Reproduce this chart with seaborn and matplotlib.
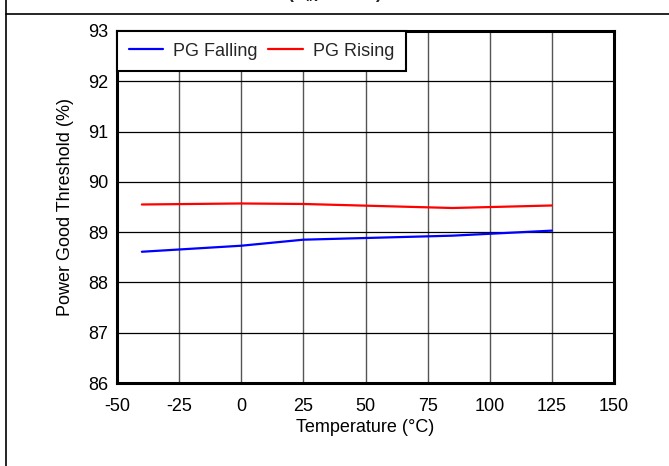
import matplotlib
matplotlib.use("Agg")
import matplotlib.pyplot as plt
import numpy as np
import pandas as pd
import seaborn as sns
from matplotlib.lines import Line2D

temperature = [-40, 0, 25, 85, 125]
pg_falling = [88.61, 88.73, 88.85, 88.93, 89.03]
pg_rising = [89.55, 89.57, 89.56, 89.48, 89.53]
series_names = ["PG Falling", "PG Rising"]
x_ticks = [-50, -25, 0, 25, 50, 75, 100, 125, 150]
y_ticks = [86, 87, 88, 89, 90, 91, 92, 93]

df = pd.DataFrame({
    "Temperature": temperature * 2,
    "Threshold": pg_falling + pg_rising,
    "Series": [series_names[0]] * len(temperature) + [series_names[1]] * len(temperature),
})

sns.set_theme(style="white")
plt.rcParams["font.family"] = ["Liberation Sans", "DejaVu Sans"]

fig = plt.figure(figsize=(6.69, 4.66), dpi=100)
ax = fig.add_axes([0.1749, 0.1781, 0.7429, 0.7554])

sns.lineplot(data=df, x="Temperature", y="Threshold", hue="Series",
             palette=["#0000ff", "#ff0000"], linewidth=1.6, ax=ax, zorder=3)

ax.set_xlim(-50, 150)
ax.set_ylim(86, 93)
ax.set_xticks(x_ticks)
ax.set_yticks(y_ticks)
ax.set_xticklabels([str(t) for t in x_ticks])
ax.set_yticklabels([str(t) for t in y_ticks])
ax.tick_params(labelsize=13, length=0, colors="black")
ax.tick_params(axis="x", pad=11)
ax.tick_params(axis="y", pad=6.5)
ax.xaxis.grid(True, color="#555555", linewidth=1.0)
ax.yaxis.grid(True, color="black", linewidth=0.9)
for sp in ax.spines.values():
    sp.set_color("black")
    sp.set_linewidth(2.2)

ax.set_xlabel("Temperature (°C)", fontsize=13, color="black", labelpad=3)
ax.set_ylabel("Power Good Threshold (%)", fontsize=13, color="black", labelpad=10)

leg = ax.legend(loc="upper left", ncol=2, fontsize=13, frameon=True, fancybox=False,
                borderaxespad=0, handlelength=1.9, columnspacing=0.6,
                handletextpad=0.55, borderpad=0.65)
leg.get_frame().set_edgecolor("black")
leg.get_frame().set_linewidth(1.5)
leg.get_frame().set_alpha(1)
leg.set_title(None)

# outer frame
fig.add_artist(Line2D([6 / 669, 6 / 669], [0, 1], transform=fig.transFigure, color="black", linewidth=1.2))
fig.add_artist(Line2D([6 / 669, 1], [1 - 14 / 466, 1 - 14 / 466], transform=fig.transFigure, color="black", linewidth=1.2))
fig.text(0.5, 1 + 2 / 466, "(V$_{\\mathregular{IN}}$ = 12 V)", ha="center", va="baseline",
         fontsize=13, fontweight="bold")

fig.savefig("out.png", dpi=100)
